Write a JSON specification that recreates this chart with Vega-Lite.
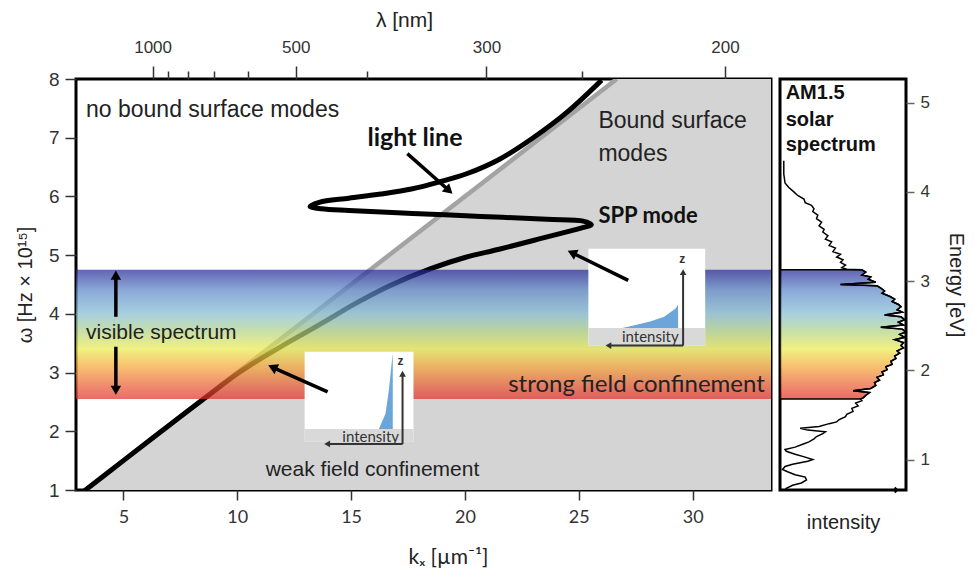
{
  "$schema": "https://vega.github.io/schema/vega-lite/v6.json",
  "background": "white",
  "padding": {"left": 13, "top": 7, "right": 2, "bottom": 2},
  "spacing": 2,
  "config": {
    "view": {"stroke": "black", "strokeWidth": 3},
    "font": "Liberation Sans",
    "axis": {"grid": false, "domain": false, "tickColor": "#333", "labelColor": "#333", "titleColor": "#222", "titleFontWeight": "normal"}
  },
  "datasets": {
    "region": [{"k": 3.333, "w": 1}, {"k": 26.667, "w": 8}, {"k": 33.44, "w": 8}],
    "light": [{"k": 3.333, "w": 1}, {"k": 26.667, "w": 8}],
    "spp": [
      {"i": 0, "k": 3.27, "w": 0.98}, {"i": 1, "k": 5.0, "w": 1.5}, {"i": 2, "k": 7.0, "w": 2.1},
      {"i": 3, "k": 9.0, "w": 2.69}, {"i": 4, "k": 10.0, "w": 2.98}, {"i": 5, "k": 11.0, "w": 3.23},
      {"i": 6, "k": 12.0, "w": 3.46}, {"i": 7, "k": 13.0, "w": 3.68}, {"i": 8, "k": 13.8, "w": 3.86},
      {"i": 9, "k": 15.3, "w": 4.2}, {"i": 10, "k": 16.7, "w": 4.48}, {"i": 11, "k": 18.5, "w": 4.77},
      {"i": 12, "k": 20.0, "w": 4.96}, {"i": 13, "k": 21.5, "w": 5.1}, {"i": 14, "k": 23.0, "w": 5.25},
      {"i": 15, "k": 24.3, "w": 5.38}, {"i": 16, "k": 25.1, "w": 5.46}, {"i": 17, "k": 25.55, "w": 5.52},
      {"i": 18, "k": 25.2, "w": 5.58}, {"i": 19, "k": 23.6, "w": 5.61}, {"i": 20, "k": 20.7, "w": 5.66},
      {"i": 21, "k": 17.7, "w": 5.71}, {"i": 22, "k": 14.9, "w": 5.76}, {"i": 23, "k": 13.7, "w": 5.79},
      {"i": 24, "k": 13.2, "w": 5.83}, {"i": 25, "k": 13.6, "w": 5.9}, {"i": 26, "k": 14.9, "w": 5.97},
      {"i": 27, "k": 16.3, "w": 6.04}, {"i": 28, "k": 17.7, "w": 6.13}, {"i": 29, "k": 18.9, "w": 6.25},
      {"i": 30, "k": 20.1, "w": 6.39}, {"i": 31, "k": 21.5, "w": 6.63}, {"i": 32, "k": 23.0, "w": 7.0},
      {"i": 33, "k": 24.5, "w": 7.44}, {"i": 34, "k": 26.0, "w": 7.98}
    ],
    "band": [{"k1": 2.92, "k2": 33.44, "w1": 2.55, "w2": 4.75}],
    "insets": [
      {"k1": 12.96, "k2": 17.74, "w1": 1.82, "w2": 3.355, "s2": 2.04},
      {"k1": 25.42, "k2": 30.55, "w1": 3.46, "w2": 5.11, "s2": 3.76}
    ],
    "blue": [
      {"inset": 1, "w": 2.04, "kl": 16.22, "kr": 16.83}, {"inset": 1, "w": 2.3, "kl": 16.51, "kr": 16.83},
      {"inset": 1, "w": 2.7, "kl": 16.66, "kr": 16.83}, {"inset": 1, "w": 3.0, "kl": 16.74, "kr": 16.83},
      {"inset": 1, "w": 3.3, "kl": 16.82, "kr": 16.83},
      {"inset": 2, "w": 3.76, "kl": 26.91, "kr": 29.36}, {"inset": 2, "w": 3.8, "kl": 27.4, "kr": 29.36},
      {"inset": 2, "w": 3.87, "kl": 28.13, "kr": 29.36}, {"inset": 2, "w": 3.95, "kl": 28.75, "kr": 29.36},
      {"inset": 2, "w": 4.09, "kl": 29.25, "kr": 29.36}, {"inset": 2, "w": 4.15, "kl": 29.35, "kr": 29.36}
    ],
    "thinArrows": [
      {"x": 17.26, "y": 1.785, "x2": 17.26, "y2": 2.98, "dir": "up"},
      {"x": 17.26, "y": 1.785, "x2": 13.95, "y2": 1.785, "dir": "left"},
      {"x": 29.58, "y": 3.46, "x2": 29.58, "y2": 4.71, "dir": "up"},
      {"x": 29.58, "y": 3.46, "x2": 26.3, "y2": 3.46, "dir": "left"}
    ],
    "arrows": [
      {"x": 4.67, "y": 3.95, "x2": 4.67, "y2": 4.66, "dir": "up"},
      {"x": 4.67, "y": 3.44, "x2": 4.67, "y2": 2.7, "dir": "down"},
      {"x": 17.47, "y": 6.73, "x2": 19.3, "y2": 6.1, "dir": "dr"},
      {"x": 27.17, "y": 4.57, "x2": 24.7, "y2": 5.04, "dir": "ul"},
      {"x": 13.97, "y": 2.67, "x2": 11.55, "y2": 3.09, "dir": "ul"}
    ],
    "notesBig": [
      {"k": 3.36, "w": 7.47, "t": "no bound surface modes"},
      {"k": 25.86, "w": 7.28, "t": "Bound surface"},
      {"k": 25.86, "w": 6.73, "t": "modes"}
    ],
    "notes": [
      {"k": 3.36, "w": 3.68, "t": "visible spectrum"},
      {"k": 11.25, "w": 1.34, "t": "weak field confinement"}
    ],
    "notes2": [{"k": 21.9, "w": 2.79, "t": "strong field confinement"}],
    "boldA": [{"k": 15.72, "w": 6.99, "t": "light line"}],
    "boldB": [{"k": 25.86, "w": 5.66, "t": "SPP mode"}],
    "insetText": [{"k": 15.86, "w": 1.91, "t": "intensity"}, {"k": 28.14, "w": 3.61, "t": "intensity"}],
    "zText": [{"k": 17.17, "w": 3.2, "t": "z"}, {"k": 29.54, "w": 4.94, "t": "z"}],
    "spectrum": [
      {"w": 6.609, "I": 0.03}, {"w": 6.381, "I": 0.03}, {"w": 6.229, "I": 0.04}, {"w": 6.153, "I": 0.07},
      {"w": 6.077, "I": 0.11}, {"w": 6.016, "I": 0.14}, {"w": 5.956, "I": 0.19}, {"w": 5.895, "I": 0.2},
      {"w": 5.849, "I": 0.25}, {"w": 5.788, "I": 0.27}, {"w": 5.743, "I": 0.26}, {"w": 5.682, "I": 0.3},
      {"w": 5.621, "I": 0.29}, {"w": 5.561, "I": 0.33}, {"w": 5.5, "I": 0.31}, {"w": 5.439, "I": 0.35},
      {"w": 5.393, "I": 0.34}, {"w": 5.333, "I": 0.38}, {"w": 5.272, "I": 0.36}, {"w": 5.226, "I": 0.41},
      {"w": 5.166, "I": 0.39}, {"w": 5.12, "I": 0.44}, {"w": 5.059, "I": 0.42}, {"w": 5.014, "I": 0.48},
      {"w": 4.968, "I": 0.45}, {"w": 4.922, "I": 0.5}, {"w": 4.877, "I": 0.48}, {"w": 4.831, "I": 0.52},
      {"w": 4.786, "I": 0.49}, {"w": 4.76, "I": 0.53},
      {"w": 4.75, "I": 0.65}, {"w": 4.71, "I": 0.68}, {"w": 4.66, "I": 0.65}, {"w": 4.63, "I": 0.72},
      {"w": 4.59, "I": 0.7}, {"w": 4.54, "I": 0.76}, {"w": 4.5, "I": 0.48}, {"w": 4.48, "I": 0.77},
      {"w": 4.44, "I": 0.8}, {"w": 4.39, "I": 0.83}, {"w": 4.35, "I": 0.81}, {"w": 4.3, "I": 0.87},
      {"w": 4.25, "I": 0.91}, {"w": 4.21, "I": 0.89}, {"w": 4.16, "I": 0.94}, {"w": 4.12, "I": 0.96},
      {"w": 4.07, "I": 0.93}, {"w": 4.03, "I": 0.97}, {"w": 3.98, "I": 0.83}, {"w": 3.95, "I": 0.96},
      {"w": 3.9, "I": 0.99}, {"w": 3.86, "I": 0.94}, {"w": 3.81, "I": 0.98}, {"w": 3.77, "I": 0.8},
      {"w": 3.74, "I": 0.97}, {"w": 3.69, "I": 1.0}, {"w": 3.65, "I": 0.95}, {"w": 3.6, "I": 0.99},
      {"w": 3.56, "I": 0.91}, {"w": 3.51, "I": 0.98}, {"w": 3.46, "I": 0.96}, {"w": 3.42, "I": 0.98},
      {"w": 3.37, "I": 0.93}, {"w": 3.33, "I": 0.95}, {"w": 3.28, "I": 0.91}, {"w": 3.24, "I": 0.92},
      {"w": 3.19, "I": 0.88}, {"w": 3.14, "I": 0.89}, {"w": 3.1, "I": 0.84}, {"w": 3.05, "I": 0.85},
      {"w": 3.01, "I": 0.81}, {"w": 2.96, "I": 0.82}, {"w": 2.92, "I": 0.77}, {"w": 2.87, "I": 0.79},
      {"w": 2.83, "I": 0.75}, {"w": 2.78, "I": 0.76}, {"w": 2.73, "I": 0.72}, {"w": 2.69, "I": 0.58},
      {"w": 2.66, "I": 0.71}, {"w": 2.61, "I": 0.68}, {"w": 2.57, "I": 0.66}, {"w": 2.55, "I": 0.64},
      {"w": 2.52, "I": 0.65}, {"w": 2.48, "I": 0.6}, {"w": 2.43, "I": 0.62}, {"w": 2.39, "I": 0.57},
      {"w": 2.34, "I": 0.58}, {"w": 2.29, "I": 0.53}, {"w": 2.25, "I": 0.52}, {"w": 2.2, "I": 0.47},
      {"w": 2.16, "I": 0.45}, {"w": 2.13, "I": 0.39}, {"w": 2.08, "I": 0.31}, {"w": 2.05, "I": 0.16},
      {"w": 2.02, "I": 0.22}, {"w": 1.99, "I": 0.36}, {"w": 1.96, "I": 0.34}, {"w": 1.91, "I": 0.29},
      {"w": 1.87, "I": 0.27}, {"w": 1.82, "I": 0.23}, {"w": 1.78, "I": 0.18}, {"w": 1.73, "I": 0.12},
      {"w": 1.69, "I": 0.04}, {"w": 1.66, "I": 0.05}, {"w": 1.61, "I": 0.12}, {"w": 1.56, "I": 0.2},
      {"w": 1.52, "I": 0.26}, {"w": 1.49, "I": 0.22}, {"w": 1.44, "I": 0.1}, {"w": 1.4, "I": 0.04},
      {"w": 1.35, "I": 0.02}, {"w": 1.31, "I": 0.06}, {"w": 1.26, "I": 0.12}, {"w": 1.22, "I": 0.2},
      {"w": 1.17, "I": 0.21}, {"w": 1.12, "I": 0.17}, {"w": 1.08, "I": 0.1}, {"w": 1.03, "I": 0.05},
      {"w": 1.0, "I": 0.04}
    ],
    "panelText": [
      {"I": 0.045, "w": 7.77, "t": "AM1.5"},
      {"I": 0.045, "w": 7.3, "t": "solar"},
      {"I": 0.045, "w": 6.88, "t": "spectrum"}
    ],
    "panelArrow": [{"I": 0.93, "w": 1.0}]
  },
  "hconcat": [
    {
      "width": 695,
      "height": 411,
      "resolve": {"axis": {"x": "independent", "y": "independent"}},
      "layer": [
        {
          "data": {"name": "region"},
          "mark": {"type": "area", "color": "#d4d4d4", "clip": true},
          "encoding": {
            "x": {"field": "k", "type": "quantitative", "scale": {"domain": [2.92, 33.44], "nice": false, "zero": false},
              "axis": {"orient": "bottom", "values": [5, 10, 15, 20, 25, 30], "tickSize": 10, "tickWidth": 1.5, "labelPadding": 8, "labelFont": "Lato", "labelFontSize": 18, "title": "kₓ [µm⁻¹]", "titleFont": "Lato", "titleFontSize": 21, "titlePadding": 20, "titleX": 372}},
            "y": {"field": "w", "type": "quantitative", "scale": {"domain": [1, 8], "nice": false, "zero": false},
              "axis": {"orient": "left", "values": [1, 2, 3, 4, 5, 6, 7, 8], "tickSize": 11, "tickWidth": 1.5, "labelPadding": 6, "labelFontSize": 19, "title": "ω [Hz × 10¹⁵]", "titleFontSize": 20, "titlePadding": 13}},
            "y2": {"datum": 1}
          }
        },
        {
          "data": {"name": "light"},
          "mark": {"type": "line", "color": "#a3a3a3", "strokeWidth": 4.5, "clip": true},
          "encoding": {
            "x": {"field": "k", "type": "quantitative",
              "axis": {"orient": "top", "values": [6.2832, 12.5664, 20.944, 31.416], "labelExpr": "round(2000*PI/datum.value)", "tickSize": 13, "tickWidth": 1.5, "labelPadding": 10, "labelFontSize": 17, "title": "λ [nm]", "titleFontSize": 21, "titlePadding": 8, "titleX": 328}},
            "y": {"field": "w", "type": "quantitative", "axis": null}
          }
        },
        {
          "data": {"name": "spp"},
          "mark": {"type": "line", "color": "black", "strokeWidth": 5, "interpolate": "catmull-rom", "strokeJoin": "round", "clip": true},
          "encoding": {
            "x": {"field": "k", "type": "quantitative",
              "axis": {"orient": "top", "values": [6.981, 7.854, 8.976, 10.472, 15.708, 25.133], "tickSize": 8, "tickWidth": 1.5, "labels": false, "title": null}},
            "y": {"field": "w", "type": "quantitative", "axis": null},
            "order": {"field": "i", "type": "quantitative"}
          }
        },
        {
          "data": {"name": "band"},
          "mark": {"type": "rect", "fillOpacity": 0.7, "fill": {"gradient": "linear", "x1": 0, "y1": 1, "x2": 0, "y2": 0, "stops": [
            {"offset": 0, "color": "#e72a2a"}, {"offset": 0.114, "color": "#ea6033"}, {"offset": 0.25, "color": "#f5a533"},
            {"offset": 0.386, "color": "#eaea4a"}, {"offset": 0.523, "color": "#b0d383"}, {"offset": 0.659, "color": "#83bcd3"},
            {"offset": 0.841, "color": "#5886c7"}, {"offset": 1, "color": "#222294"}]}},
          "encoding": {
            "x": {"field": "k1", "type": "quantitative", "axis": null}, "x2": {"field": "k2"},
            "y": {"field": "w1", "type": "quantitative", "axis": null}, "y2": {"field": "w2"}
          }
        },
        {
          "data": {"name": "insets"},
          "mark": {"type": "rect", "fill": "white"},
          "encoding": {
            "x": {"field": "k1", "type": "quantitative", "axis": null}, "x2": {"field": "k2"},
            "y": {"field": "w1", "type": "quantitative", "axis": null}, "y2": {"field": "w2"}
          }
        },
        {
          "data": {"name": "insets"},
          "mark": {"type": "rect", "fill": "#d9d9d9"},
          "encoding": {
            "x": {"field": "k1", "type": "quantitative", "axis": null}, "x2": {"field": "k2"},
            "y": {"field": "w1", "type": "quantitative", "axis": null}, "y2": {"field": "s2"}
          }
        },
        {
          "data": {"name": "blue"},
          "mark": {"type": "area", "orient": "horizontal", "color": "#5b9bd5", "opacity": 0.9},
          "encoding": {
            "y": {"field": "w", "type": "quantitative", "axis": null},
            "x": {"field": "kl", "type": "quantitative", "axis": null}, "x2": {"field": "kr"},
            "detail": {"field": "inset"}
          }
        },
        {
          "data": {"name": "thinArrows"},
          "mark": {"type": "rule", "color": "#333", "strokeWidth": 2},
          "encoding": {
            "x": {"field": "x", "type": "quantitative", "axis": null}, "x2": {"field": "x2"},
            "y": {"field": "y", "type": "quantitative", "axis": null}, "y2": {"field": "y2"}
          }
        },
        {
          "data": {"name": "thinArrows"},
          "transform": [{"filter": "datum.dir == 'up'"}],
          "mark": {"type": "point", "shape": "triangle-up", "filled": true, "color": "#333", "size": 45, "opacity": 1},
          "encoding": {"x": {"field": "x2", "type": "quantitative", "axis": null}, "y": {"field": "y2", "type": "quantitative", "axis": null}}
        },
        {
          "data": {"name": "thinArrows"},
          "transform": [{"filter": "datum.dir == 'left'"}],
          "mark": {"type": "point", "shape": "triangle-left", "filled": true, "color": "#333", "size": 45, "opacity": 1},
          "encoding": {"x": {"field": "x2", "type": "quantitative", "axis": null}, "y": {"field": "y2", "type": "quantitative", "axis": null}}
        },
        {
          "data": {"name": "insetText"},
          "mark": {"type": "text", "font": "Lato", "fontSize": 15, "color": "#333", "align": "center", "baseline": "middle"},
          "encoding": {"x": {"field": "k", "type": "quantitative", "axis": null}, "y": {"field": "w", "type": "quantitative", "axis": null}, "text": {"field": "t"}}
        },
        {
          "data": {"name": "zText"},
          "mark": {"type": "text", "fontSize": 12, "fontWeight": "bold", "color": "#333", "align": "center", "baseline": "middle"},
          "encoding": {"x": {"field": "k", "type": "quantitative", "axis": null}, "y": {"field": "w", "type": "quantitative", "axis": null}, "text": {"field": "t"}}
        },
        {
          "data": {"name": "arrows"},
          "mark": {"type": "rule", "color": "black", "strokeWidth": 3.5},
          "encoding": {
            "x": {"field": "x", "type": "quantitative", "axis": null}, "x2": {"field": "x2"},
            "y": {"field": "y", "type": "quantitative", "axis": null}, "y2": {"field": "y2"}
          }
        },
        {
          "data": {"name": "arrows"},
          "transform": [{"filter": "datum.dir == 'up'"}],
          "mark": {"type": "point", "shape": "triangle-up", "filled": true, "color": "black", "size": 110, "opacity": 1},
          "encoding": {"x": {"field": "x2", "type": "quantitative", "axis": null}, "y": {"field": "y2", "type": "quantitative", "axis": null}}
        },
        {
          "data": {"name": "arrows"},
          "transform": [{"filter": "datum.dir == 'down'"}],
          "mark": {"type": "point", "shape": "triangle-down", "filled": true, "color": "black", "size": 110, "opacity": 1},
          "encoding": {"x": {"field": "x2", "type": "quantitative", "axis": null}, "y": {"field": "y2", "type": "quantitative", "axis": null}}
        },
        {
          "data": {"name": "arrows"},
          "transform": [{"filter": "datum.dir == 'dr'"}],
          "mark": {"type": "point", "shape": "triangle-up", "angle": 132, "filled": true, "color": "black", "size": 120, "opacity": 1},
          "encoding": {"x": {"field": "x2", "type": "quantitative", "axis": null}, "y": {"field": "y2", "type": "quantitative", "axis": null}}
        },
        {
          "data": {"name": "arrows"},
          "transform": [{"filter": "datum.dir == 'ul'"}],
          "mark": {"type": "point", "shape": "triangle-up", "angle": 295, "filled": true, "color": "black", "size": 120, "opacity": 1},
          "encoding": {"x": {"field": "x2", "type": "quantitative", "axis": null}, "y": {"field": "y2", "type": "quantitative", "axis": null}}
        },
        {
          "data": {"name": "notesBig"},
          "mark": {"type": "text", "fontSize": 23, "color": "#222", "align": "left", "baseline": "middle"},
          "encoding": {"x": {"field": "k", "type": "quantitative", "axis": null}, "y": {"field": "w", "type": "quantitative", "axis": null}, "text": {"field": "t"}}
        },
        {
          "data": {"name": "notes"},
          "mark": {"type": "text", "fontSize": 21, "color": "#222", "align": "left", "baseline": "middle"},
          "encoding": {"x": {"field": "k", "type": "quantitative", "axis": null}, "y": {"field": "w", "type": "quantitative", "axis": null}, "text": {"field": "t"}}
        },
        {
          "data": {"name": "notes2"},
          "mark": {"type": "text", "font": "Lato", "fontSize": 24, "color": "#222", "align": "left", "baseline": "middle"},
          "encoding": {"x": {"field": "k", "type": "quantitative", "axis": null}, "y": {"field": "w", "type": "quantitative", "axis": null}, "text": {"field": "t"}}
        },
        {
          "data": {"name": "boldA"},
          "mark": {"type": "text", "font": "Lato", "fontSize": 25, "fontWeight": "bold", "color": "#111", "align": "left", "baseline": "middle"},
          "encoding": {"x": {"field": "k", "type": "quantitative", "axis": null}, "y": {"field": "w", "type": "quantitative", "axis": null}, "text": {"field": "t"}}
        },
        {
          "data": {"name": "boldB"},
          "mark": {"type": "text", "font": "Lato", "fontSize": 22, "fontWeight": "bold", "color": "#111", "align": "left", "baseline": "middle"},
          "encoding": {"x": {"field": "k", "type": "quantitative", "axis": null}, "y": {"field": "w", "type": "quantitative", "axis": null}, "text": {"field": "t"}}
        }
      ]
    },
    {
      "width": 126,
      "height": 411,
      "resolve": {"axis": {"x": "independent", "y": "independent"}},
      "layer": [
        {
          "data": {"name": "spectrum"},
          "transform": [{"filter": "datum.w >= 2.549 && datum.w <= 4.751"}],
          "mark": {"type": "area", "orient": "horizontal", "fillOpacity": 0.7, "stroke": "black", "strokeWidth": 1.5, "fill": {"gradient": "linear", "x1": 0, "y1": 1, "x2": 0, "y2": 0, "stops": [
            {"offset": 0, "color": "#e72a2a"}, {"offset": 0.114, "color": "#ea6033"}, {"offset": 0.25, "color": "#f5a533"},
            {"offset": 0.386, "color": "#eaea4a"}, {"offset": 0.523, "color": "#b0d383"}, {"offset": 0.659, "color": "#83bcd3"},
            {"offset": 0.841, "color": "#5886c7"}, {"offset": 1, "color": "#222294"}]}},
          "encoding": {
            "y": {"field": "w", "type": "quantitative", "scale": {"domain": [1, 8], "nice": false, "zero": false}, "axis": null},
            "x": {"field": "I", "type": "quantitative", "scale": {"domain": [0, 1], "nice": false}, "axis": null}
          }
        },
        {
          "data": {"name": "spectrum"},
          "mark": {"type": "line", "color": "black", "strokeWidth": 1.5},
          "encoding": {
            "y": {"field": "w", "type": "quantitative",
              "axis": {"orient": "right", "values": [1.5193, 3.0386, 4.5579, 6.0772, 7.5965], "labelExpr": "round(datum.value*0.6582)", "tickSize": 8, "tickWidth": 1.5, "tickColor": "#666", "labelPadding": 6, "labelFontSize": 17, "title": "Energy [eV]", "titleFontSize": 20, "titlePadding": 16}},
            "x": {"field": "I", "type": "quantitative",
              "axis": {"orient": "bottom", "ticks": false, "labels": false, "title": "intensity", "titleFontSize": 20, "titlePadding": 22}},
            "order": {"field": "w", "type": "quantitative"}
          }
        },
        {
          "data": {"name": "panelText"},
          "mark": {"type": "text", "fontSize": 20, "fontWeight": "bold", "color": "#111", "align": "left", "baseline": "middle"},
          "encoding": {"x": {"field": "I", "type": "quantitative", "axis": null}, "y": {"field": "w", "type": "quantitative", "axis": null}, "text": {"field": "t"}}
        },
        {
          "data": {"name": "panelArrow"},
          "mark": {"type": "point", "shape": "M-0.5,-0.5L0,0L-0.5,0.5", "filled": false, "stroke": "black", "strokeWidth": 2, "size": 100, "opacity": 1},
          "encoding": {"x": {"field": "I", "type": "quantitative", "axis": null}, "y": {"field": "w", "type": "quantitative", "axis": null}}
        }
      ]
    }
  ]
}
